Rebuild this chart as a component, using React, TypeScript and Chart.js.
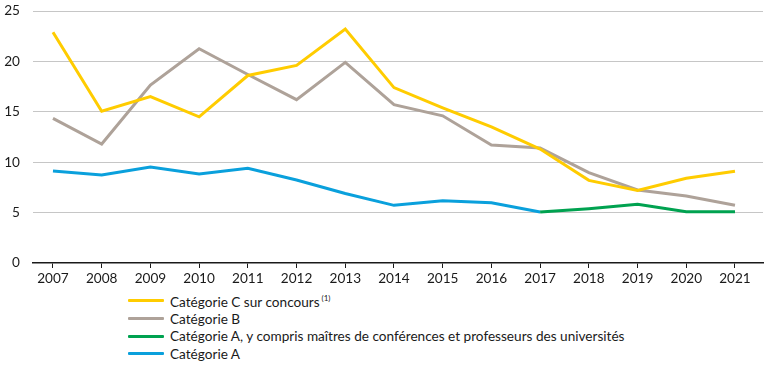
import React, { useEffect, useRef } from "react";
import { Chart, registerables } from "chart.js";

Chart.register(...registerables);

const years = [2007, 2008, 2009, 2010, 2011, 2012, 2013, 2014, 2015, 2016, 2017, 2018, 2019, 2020, 2021];
const catC = [22.9, 15.05, 16.5, 14.5, 18.6, 19.6, 23.2, 17.4, 15.4, 13.5, 11.3, 8.2, 7.2, 8.4, 9.1];
const catB = [14.35, 11.8, 17.66, 21.26, 18.7, 16.2, 19.9, 15.7, 14.6, 11.7, 11.4, 8.96, 7.24, 6.65, 5.72];
const catAInc = [null, null, null, null, null, null, null, null, null, null, 5.06, 5.39, 5.82, 5.09, 5.09];
const catA = [9.13, 8.73, 9.52, 8.83, 9.39, 8.23, 6.9, 5.72, 6.18, 5.98, 5.06, null, null, null, null];
const yTicks = [0, 5, 10, 15, 20, 25];

const series = [
  { label: "Catégorie C sur concours", sup: "(1)", values: catC, color: "#FFCC00" },
  { label: "Catégorie B", sup: "", values: catB, color: "#AEA299" },
  { label: "Catégorie A, y compris maîtres de conférences et professeurs des universités", sup: "", values: catAInc, color: "#00A250" },
  { label: "Catégorie A", sup: "", values: catA, color: "#0AA0DC" },
];

const FONT = "Lato, 'Open Sans', sans-serif";

export default function App() {
  const ref = useRef<HTMLCanvasElement | null>(null);
  useEffect(() => {
    if (!ref.current) return;
    const chart = new Chart(ref.current, {
      type: "line",
      data: {
        datasets: series.map((s) => ({
          label: s.label,
          data: years.map((yr, i) => ({ x: yr, y: s.values[i] })),
          borderColor: s.color,
          backgroundColor: s.color,
          borderWidth: 3,
          pointRadius: 0,
          tension: 0,
          spanGaps: false,
        })),
      },
      options: {
        animation: false,
        responsive: false,
        maintainAspectRatio: false,
        layout: { padding: { top: 11, right: 8, left: 0, bottom: 0 } },
        plugins: { legend: { display: false }, tooltip: { enabled: false } },
        scales: {
          x: {
            type: "linear",
            min: 2006.59,
            max: 2021.575,
            afterBuildTicks: (scale: any) => {
              scale.ticks = years.map((v) => ({ value: v }));
            },
            afterFit: (scale: any) => {
              scale.height = 27;
              scale.paddingLeft = 0;
              scale.paddingRight = 0;
            },
            ticks: {
              callback: (v: any) => String(v),
              color: "#1a1a1a",
              font: { family: FONT, size: 13.6 },
              padding: 2,
              maxRotation: 0,
              autoSkip: false,
            },
            grid: {
              drawOnChartArea: false,
              drawTicks: true,
              tickLength: 5,
              tickColor: "#1a1a1a",
              tickWidth: 1,
            },
            border: { display: true, color: "#1a1a1a", width: 1.5 },
          },
          y: {
            min: 0,
            max: 25,
            afterBuildTicks: (scale: any) => {
              scale.ticks = yTicks.map((v) => ({ value: v }));
            },
            afterFit: (scale: any) => {
              scale.width = 33;
              scale.paddingTop = 0;
              scale.paddingBottom = 0;
            },
            ticks: {
              color: "#1a1a1a",
              font: { family: FONT, size: 13.6 },
              padding: 13,
            },
            grid: {
              drawTicks: false,
              color: (ctx: any) => (ctx.tick && ctx.tick.value === 0 ? "rgba(0,0,0,0)" : "#C6C6C6"),
              lineWidth: 1,
            },
            border: { display: false },
          },
        },
      },
    });
    return () => chart.destroy();
  }, []);

  return (
    <div style={{ position: "absolute", left: 0, top: 0, width: 771, height: 365, background: "#fff", fontFamily: FONT }}>
      <canvas ref={ref} width={771} height={290} style={{ display: "block", width: 771, height: 290 }} />
      <div style={{ position: "absolute", left: 128, top: 292 }}>
        {series.map((s) => (
          <div key={s.label} style={{ display: "flex", alignItems: "center", height: 17.7, fontSize: 13.6, color: "#1a1a1a", whiteSpace: "nowrap" }}>
            <span style={{ display: "inline-block", width: 36, height: 3, background: s.color, marginRight: 6, borderRadius: 1 }} />
            <span>
              {s.label}
              {s.sup ? <sup style={{ fontSize: 8, marginLeft: 2 }}>{s.sup}</sup> : null}
            </span>
          </div>
        ))}
      </div>
    </div>
  );
}
